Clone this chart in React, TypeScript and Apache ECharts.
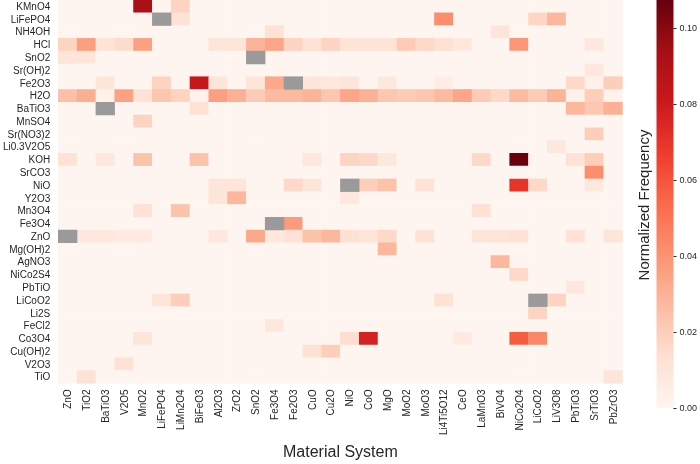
import React, { useEffect, useRef } from 'react';
import * as echarts from 'echarts';

const rows = ['KMnO4', 'LiFePO4', 'NH4OH', 'HCl', 'SnO2', 'Sr(OH)2', 'Fe2O3', 'H2O', 'BaTiO3', 'MnSO4', 'Sr(NO3)2', 'Li0.3V2O5', 'KOH', 'SrCO3', 'NiO', 'Y2O3', 'Mn3O4', 'Fe3O4', 'ZnO', 'Mg(OH)2', 'AgNO3', 'NiCo2S4', 'PbTiO', 'LiCoO2', 'Li2S', 'FeCl2', 'Co3O4', 'Cu(OH)2', 'V2O3', 'TiO'];
const cols = ['ZnO', 'TiO2', 'BaTiO3', 'V2O5', 'MnO2', 'LiFePO4', 'LiMn2O4', 'BiFeO3', 'Al2O3', 'ZrO2', 'SnO2', 'Fe3O4', 'Fe2O3', 'CuO', 'Cu2O', 'NiO', 'CoO', 'MgO', 'MoO2', 'MoO3', 'Li4Ti5O12', 'CeO', 'LaMnO3', 'BiVO4', 'NiCo2O4', 'LiCoO2', 'LiV3O8', 'PbTiO3', 'SrTiO3', 'PbZrO3'];

// cells with no value (drawn gray)
const grayCells: [string, string][] = [
  ['LiFePO4', 'LiFePO4'], ['SnO2', 'SnO2'], ['Fe2O3', 'Fe2O3'], ['BaTiO3', 'BaTiO3'],
  ['NiO', 'NiO'], ['Fe3O4', 'Fe3O4'], ['ZnO', 'ZnO'], ['LiCoO2', 'LiCoO2'],
];

// non-zero cells [row, column, value]; all other cells are 0
const upperCells: [string, string, number][] = [
  ['KMnO4', 'MnO2', 0.092], ['KMnO4', 'LiMn2O4', 0.018],
  ['LiFePO4', 'LiMn2O4', 0.012], ['LiFePO4', 'Li4Ti5O12', 0.042], ['LiFePO4', 'LiCoO2', 0.017], ['LiFePO4', 'LiV3O8', 0.028],
  ['NH4OH', 'Fe3O4', 0.012], ['NH4OH', 'BiVO4', 0.01],
  ['HCl', 'ZnO', 0.018], ['HCl', 'TiO2', 0.036], ['HCl', 'BaTiO3', 0.011], ['HCl', 'V2O5', 0.015], ['HCl', 'MnO2', 0.035],
  ['HCl', 'Al2O3', 0.01], ['HCl', 'ZrO2', 0.01], ['HCl', 'SnO2', 0.029], ['HCl', 'Fe3O4', 0.034], ['HCl', 'Fe2O3', 0.018],
  ['HCl', 'CuO', 0.012], ['HCl', 'Cu2O', 0.018], ['HCl', 'NiO', 0.011], ['HCl', 'CoO', 0.011], ['HCl', 'MgO', 0.011],
  ['HCl', 'MoO2', 0.021], ['HCl', 'MoO3', 0.016], ['HCl', 'Li4Ti5O12', 0.013], ['HCl', 'CeO', 0.008], ['HCl', 'NiCo2O4', 0.039],
  ['HCl', 'SrTiO3', 0.008],
  ['SnO2', 'ZnO', 0.01], ['SnO2', 'TiO2', 0.01],
  ['Sr(OH)2', 'SrTiO3', 0.008],
  ['Fe2O3', 'BaTiO3', 0.01], ['Fe2O3', 'LiFePO4', 0.018], ['Fe2O3', 'BiFeO3', 0.082], ['Fe2O3', 'Al2O3', 0.01],
  ['Fe2O3', 'SnO2', 0.01], ['Fe2O3', 'Fe3O4', 0.033], ['Fe2O3', 'CuO', 0.01], ['Fe2O3', 'Cu2O', 0.008], ['Fe2O3', 'NiO', 0.01],
  ['Fe2O3', 'MgO', 0.008], ['Fe2O3', 'Li4Ti5O12', 0.006], ['Fe2O3', 'PbTiO3', 0.016], ['Fe2O3', 'SrTiO3', 0.003], ['Fe2O3', 'PbZrO3', 0.02],
];

const waterCells: [string, string, number][] = [
  ['H2O', 'ZnO', 0.025], ['H2O', 'TiO2', 0.031], ['H2O', 'BaTiO3', 0.003], ['H2O', 'V2O5', 0.035], ['H2O', 'MnO2', 0.012],
  ['H2O', 'LiFePO4', 0.023], ['H2O', 'LiMn2O4', 0.018], ['H2O', 'BiFeO3', 0.002], ['H2O', 'Al2O3', 0.036], ['H2O', 'ZrO2', 0.03],
  ['H2O', 'SnO2', 0.021], ['H2O', 'Fe3O4', 0.027], ['H2O', 'Fe2O3', 0.027], ['H2O', 'CuO', 0.029], ['H2O', 'Cu2O', 0.023],
  ['H2O', 'NiO', 0.034], ['H2O', 'CoO', 0.03], ['H2O', 'MgO', 0.023], ['H2O', 'MoO2', 0.021], ['H2O', 'MoO3', 0.023],
  ['H2O', 'Li4Ti5O12', 0.027], ['H2O', 'CeO', 0.034], ['H2O', 'LaMnO3', 0.021], ['H2O', 'BiVO4', 0.016], ['H2O', 'NiCo2O4', 0.027],
  ['H2O', 'LiCoO2', 0.021], ['H2O', 'LiV3O8', 0.029], ['H2O', 'PbTiO3', 0.003], ['H2O', 'SrTiO3', 0.02], ['H2O', 'PbZrO3', 0.002],
];

const middleCells: [string, string, number][] = [
  ['BaTiO3', 'BiFeO3', 0.012], ['BaTiO3', 'PbTiO3', 0.028], ['BaTiO3', 'SrTiO3', 0.022], ['BaTiO3', 'PbZrO3', 0.03],
  ['MnSO4', 'MnO2', 0.018],
  ['Sr(NO3)2', 'SrTiO3', 0.02],
  ['Li0.3V2O5', 'LiV3O8', 0.008],
  ['KOH', 'ZnO', 0.012], ['KOH', 'BaTiO3', 0.009], ['KOH', 'MnO2', 0.024], ['KOH', 'BiFeO3', 0.024], ['KOH', 'CuO', 0.008],
  ['KOH', 'NiO', 0.018], ['KOH', 'CoO', 0.016], ['KOH', 'MgO', 0.008], ['KOH', 'LaMnO3', 0.016], ['KOH', 'NiCo2O4', 0.107],
  ['KOH', 'PbTiO3', 0.012], ['KOH', 'SrTiO3', 0.02],
  ['SrCO3', 'SrTiO3', 0.042],
  ['NiO', 'Al2O3', 0.01], ['NiO', 'ZrO2', 0.01], ['NiO', 'Fe2O3', 0.016], ['NiO', 'CuO', 0.01], ['NiO', 'CoO', 0.02],
  ['NiO', 'MgO', 0.024], ['NiO', 'MoO3', 0.012], ['NiO', 'NiCo2O4', 0.07], ['NiO', 'LiCoO2', 0.016], ['NiO', 'SrTiO3', 0.008],
  ['Y2O3', 'Al2O3', 0.01], ['Y2O3', 'ZrO2', 0.028], ['Y2O3', 'NiO', 0.008],
  ['Mn3O4', 'MnO2', 0.012], ['Mn3O4', 'LiMn2O4', 0.024], ['Mn3O4', 'LaMnO3', 0.013],
  ['Fe3O4', 'Fe2O3', 0.037],
];

const lowerCells: [string, string, number][] = [
  ['ZnO', 'TiO2', 0.008], ['ZnO', 'BaTiO3', 0.008], ['ZnO', 'V2O5', 0.007], ['ZnO', 'MnO2', 0.007], ['ZnO', 'Al2O3', 0.008],
  ['ZnO', 'SnO2', 0.033], ['ZnO', 'Fe3O4', 0.008], ['ZnO', 'Fe2O3', 0.012], ['ZnO', 'CuO', 0.024], ['ZnO', 'Cu2O', 0.028],
  ['ZnO', 'NiO', 0.013], ['ZnO', 'CoO', 0.01], ['ZnO', 'MgO', 0.016], ['ZnO', 'MoO3', 0.012], ['ZnO', 'LaMnO3', 0.01],
  ['ZnO', 'BiVO4', 0.01], ['ZnO', 'NiCo2O4', 0.012], ['ZnO', 'PbTiO3', 0.012], ['ZnO', 'PbZrO3', 0.01],
  ['Mg(OH)2', 'MgO', 0.028],
  ['AgNO3', 'BiVO4', 0.028],
  ['NiCo2S4', 'NiCo2O4', 0.016],
  ['PbTiO', 'PbTiO3', 0.008],
  ['LiCoO2', 'LiFePO4', 0.01], ['LiCoO2', 'LiMn2O4', 0.02], ['LiCoO2', 'Li4Ti5O12', 0.012], ['LiCoO2', 'LiV3O8', 0.018],
  ['Li2S', 'LiCoO2', 0.018],
  ['FeCl2', 'Fe3O4', 0.008],
  ['Co3O4', 'MnO2', 0.01], ['Co3O4', 'NiO', 0.014], ['Co3O4', 'CoO', 0.077], ['Co3O4', 'CeO', 0.007], ['Co3O4', 'NiCo2O4', 0.058],
  ['Co3O4', 'LiCoO2', 0.044],
  ['Cu(OH)2', 'CuO', 0.012], ['Cu(OH)2', 'Cu2O', 0.02],
  ['V2O3', 'V2O5', 0.012],
  ['TiO', 'TiO2', 0.012], ['TiO', 'PbZrO3', 0.01],
];

const colorbarTicks = [0, 0.02, 0.04, 0.06, 0.08, 0.1];
const colorMax = 0.1074;
const reds = ['#fff5f0', '#fee0d2', '#fcbba1', '#fc9272', '#fb6a4a', '#ef3b2c', '#cb181d', '#a50f15', '#67000d'];
const missingColor = '#9a9a9a';

const FONT = '"Liberation Sans", Arial, sans-serif';
const TEXT = '#262626';

export default function App() {
  const ref = useRef<HTMLDivElement>(null);
  useEffect(() => {
    const chart = echarts.init(ref.current!, undefined, { renderer: 'svg' });
    const valueMap = new Map<string, number>();
    [...upperCells, ...waterCells, ...middleCells, ...lowerCells].forEach(([r, c, v]) => valueMap.set(r + '|' + c, v));
    const grayKeys = new Set(grayCells.map(([r, c]) => r + '|' + c));
    const heat: number[][] = [];
    rows.forEach((r, yi) =>
      cols.forEach((c, xi) => {
        const k = r + '|' + c;
        if (grayKeys.has(k)) return;
        heat.push([xi, yi, valueMap.get(k) ?? 0]);
      })
    );
    const gray = grayCells.map(([r, c]) => [cols.indexOf(c), rows.indexOf(r), 1]);

    chart.setOption({
      animation: false,
      grid: [
        { left: 45.5, top: 0, width: 577, height: 408 },
        { left: 656.5, top: 0, width: 20.5, height: 408 },
      ],
      xAxis: [
        {
          type: 'category', data: cols, gridIndex: 0,
          axisLine: { show: false }, axisTick: { show: false }, splitLine: { show: false },
          axisLabel: { rotate: 90, fontSize: 10, fontFamily: FONT, color: TEXT, margin: 6, interval: 0 },
          name: 'Material System', nameLocation: 'middle', nameGap: 47,
          nameTextStyle: { fontSize: 16, fontFamily: FONT, color: TEXT },
        },
        { type: 'category', data: ['cb'], gridIndex: 1, show: false },
      ],
      yAxis: [
        {
          type: 'category', data: rows, inverse: true, gridIndex: 0,
          axisLine: { show: false }, axisTick: { show: false }, splitLine: { show: false },
          axisLabel: { fontSize: 10, fontFamily: FONT, color: TEXT, margin: 8, interval: 0 },
        },
        {
          type: 'value', gridIndex: 1, min: 0, max: colorMax, position: 'right',
          axisLine: { show: false }, splitLine: { show: false },
          axisTick: { show: true, length: 3, customValues: colorbarTicks, lineStyle: { color: TEXT } },
          axisLabel: {
            customValues: colorbarTicks, fontSize: 9, fontFamily: FONT, color: TEXT, margin: 6,
            formatter: (v: number) => v.toFixed(2),
          },
        },
      ],
      visualMap: [
        {
          type: 'continuous', min: 0, max: colorMax, show: false, seriesIndex: 0,
          inRange: { color: reds },
        },
        {
          type: 'continuous', min: 0, max: 1, show: false, seriesIndex: 1,
          inRange: { color: [missingColor, missingColor] },
        },
      ],
      series: [
        { type: 'heatmap', data: heat, xAxisIndex: 0, yAxisIndex: 0, itemStyle: { borderWidth: 0 }, emphasis: { disabled: true } },
        { type: 'heatmap', data: gray, xAxisIndex: 0, yAxisIndex: 0, itemStyle: { borderWidth: 0 }, emphasis: { disabled: true } },
        {
          type: 'bar', xAxisIndex: 1, yAxisIndex: 1, data: [colorMax], barWidth: '100%',
          itemStyle: {
            color: new echarts.graphic.LinearGradient(0, 0, 0, 1,
              reds.slice().reverse().map((c, i) => ({ offset: i / (reds.length - 1), color: c }))),
          },
        },
      ],
      graphic: [
        {
          type: 'text', x: 643, y: 205, rotation: Math.PI / 2,
          style: { text: 'Normalized Frequency', fontSize: 15, fontFamily: FONT, fill: TEXT, align: 'center', verticalAlign: 'middle' },
        },
      ],
    });
    return () => chart.dispose();
  }, []);
  return <div ref={ref} style={{ position: 'fixed', left: 0, top: 0, width: 700, height: 464 }} />;
}
